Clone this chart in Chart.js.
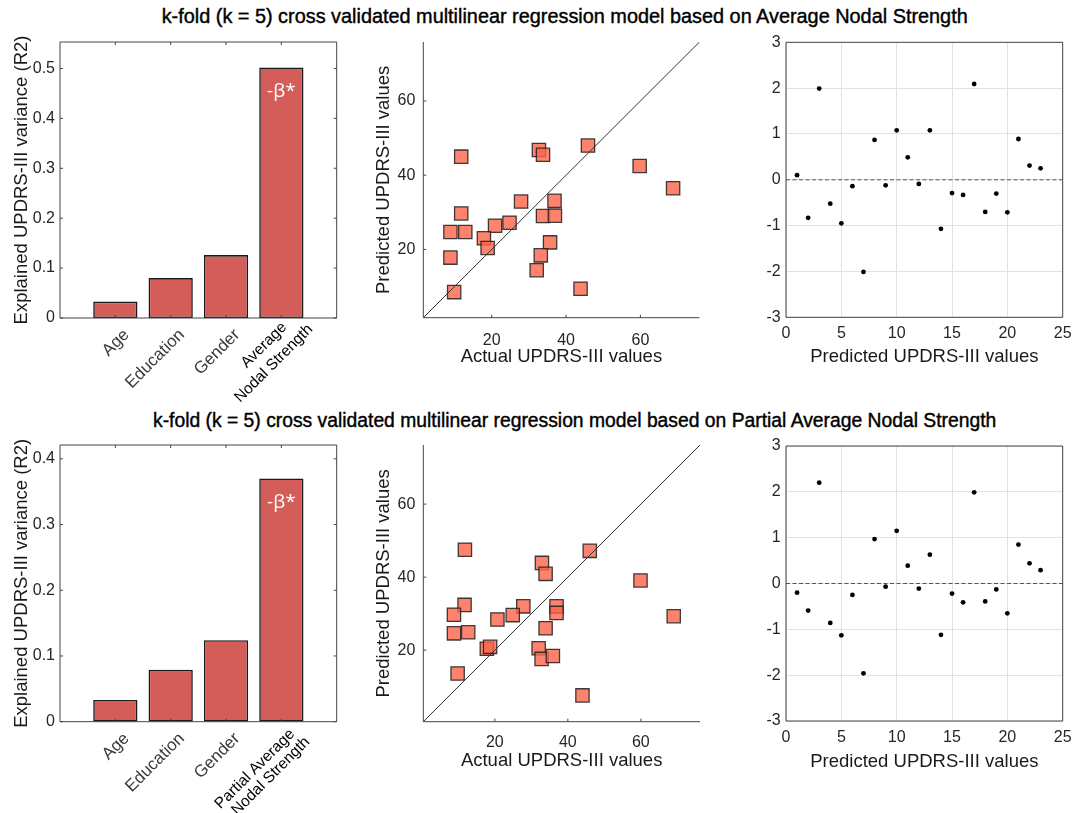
<!DOCTYPE html>
<html><head><meta charset="utf-8">
<script src="https://cdn.jsdelivr.net/npm/chart.js@4.4.1/dist/chart.umd.min.js"></script>
<style>
html,body{margin:0;padding:0;background:#fff;}
body{width:1074px;height:813px;position:relative;overflow:hidden;font-family:"Liberation Sans",Arial,sans-serif;}
canvas{position:absolute;display:block;}
.ttl{position:absolute;white-space:nowrap;color:#000;font-family:"Liberation Sans",Arial,sans-serif;line-height:1;font-weight:normal;-webkit-text-stroke:0.4px #000;}
</style></head><body>
<div class="ttl" id="t1">k-fold (k = 5) cross validated multilinear regression model based on Average Nodal Strength</div>
<div class="ttl" id="t2">k-fold (k = 5) cross validated multilinear regression model based on Partial Average Nodal Strength</div>
<canvas id="c1"></canvas><canvas id="c2"></canvas><canvas id="c3"></canvas>
<canvas id="c4"></canvas><canvas id="c5"></canvas><canvas id="c6"></canvas>
<script>
// ---------------- DATA ----------------
const barCategoriesTop = ['Age', 'Education', 'Gender', ['Average', 'Nodal Strength']];
const barCategoriesBottom = ['Age', 'Education', 'Gender', ['Partial Average', 'Nodal Strength']];
const r2Top = [0.033, 0.080, 0.126, 0.502];
const r2Bottom = [0.033, 0.079, 0.124, 0.370];
const barAnnotation = '-β*';
const r2TopTicks = [0, 0.1, 0.2, 0.3, 0.4, 0.5];
const r2BottomTicks = [0, 0.1, 0.2, 0.3, 0.4];

const actualTop    = [11.8, 32.7, 33.8, 45.9, 59.8, 68.8, 27.9, 36.9, 11.8, 33.8, 37.0, 24.8, 20.9, 8.9, 12.9, 17.9, 18.9, 35.7, 8.9, 33.2, 32.1, 43.9, 9.9];
const predictedTop = [45.0, 46.8, 45.5, 48.0, 42.5, 36.5, 32.9, 33.1, 29.7, 29.0, 29.1, 27.2, 26.4, 24.7, 24.7, 23.0, 20.4, 21.9, 17.8, 18.4, 14.4, 9.4, 8.5];
const actualBottom    = [11.8, 46.0, 32.9, 33.9, 59.9, 11.7, 8.8, 27.8, 36.9, 36.9, 24.9, 20.7, 69.0, 8.8, 12.7, 33.9, 17.8, 18.7, 32.0, 32.8, 35.9, 9.8, 44.0];
const predictedBottom = [47.5, 47.2, 43.9, 40.9, 39.1, 32.4, 29.7, 32.0, 32.0, 30.2, 29.6, 28.4, 29.3, 24.6, 24.9, 26.0, 20.4, 20.9, 20.5, 17.6, 18.4, 13.6, 7.6];
const updrsTicks = [20, 40, 60];

const residIndex  = [1, 2, 3, 4, 5, 6, 7, 8, 9, 10, 11, 12, 13, 14, 15, 16, 17, 18, 19, 20, 21, 22, 23];
const residTop    = [0.10, -0.83, 1.99, -0.52, -0.95, -0.14, -2.01, 0.87, -0.12, 1.08, 0.49, -0.09, 1.08, -1.07, -0.29, -0.33, 2.09, -0.70, -0.30, -0.71, 0.89, 0.31, 0.25];
const residBottom = [-0.20, -0.59, 2.20, -0.86, -1.13, -0.25, -1.96, 0.97, -0.07, 1.15, 0.39, -0.11, 0.63, -1.12, -0.22, -0.41, 1.99, -0.39, -0.13, -0.65, 0.85, 0.44, 0.29];
const residXTicks = [0, 5, 10, 15, 20, 25];
const residYTicks = [-3, -2, -1, 0, 1, 2, 3];

// ---------------- STYLE ----------------
const FONT = '"Liberation Sans", Arial, sans-serif';
const TICK_COLOR = '#262626';
const AXIS_COLOR = '#444';
const TICK_SIZE = 16;
const LABEL_SIZE = 18.5;

// rotated category-label placement (baseline right end of each line, relative to tick / axis)
const singleLineOffset = [14.5, 17.5];
const multiLineOffsetsTop = [[6, 10], [32, 12]];
const multiLineOffsetsBottom = [[14, 13], [29, 21]];

(function () {
  function fit(el, width, left, baseline) {
    el.style.fontSize = '20px';
    const w = el.getBoundingClientRect().width;
    const fs = 20 * width / w;
    el.style.fontSize = fs.toFixed(2) + 'px';
    el.style.left = left + 'px';
    el.style.top = (baseline - 0.8465 * fs).toFixed(1) + 'px';
  }
  fit(document.getElementById('t1'), 806.6, 161.7, 24);
  fit(document.getElementById('t2'), 844, 153, 427);
})();

const matlabAxes = {
  id: 'matlabAxes',
  afterDatasetsDraw(chart, args, opts) {
    if (!opts || !opts.enabled) return;
    const { ctx, chartArea: a } = chart;
    const xs = chart.scales.x, ys = chart.scales.y;
    const L = 3;
    ctx.save();
    ctx.strokeStyle = AXIS_COLOR;
    ctx.lineWidth = 1;
    ctx.beginPath();
    ctx.moveTo(a.left, a.top); ctx.lineTo(a.left, a.bottom); ctx.lineTo(a.right, a.bottom);
    if (opts.box) { ctx.lineTo(a.right, a.top); ctx.lineTo(a.left, a.top); }
    if (opts.ticks) {
      xs.ticks.forEach(t => {
        const p = xs.getPixelForValue(t.value);
        ctx.moveTo(p, a.bottom); ctx.lineTo(p, a.bottom - L);
        if (opts.box) { ctx.moveTo(p, a.top); ctx.lineTo(p, a.top + L); }
      });
      ys.ticks.forEach(t => {
        const p = ys.getPixelForValue(t.value);
        ctx.moveTo(a.left, p); ctx.lineTo(a.left + L, p);
        if (opts.box) { ctx.moveTo(a.right, p); ctx.lineTo(a.right - L, p); }
      });
    }
    ctx.stroke();
    if (opts.annotation) {
      const el = chart.getDatasetMeta(0).data[opts.annotation.index];
      ctx.fillStyle = '#fff';
      ctx.font = '19px "Open Sans", ' + FONT;
      ctx.textAlign = 'center';
      ctx.textBaseline = 'middle';
      ctx.fillText(opts.annotation.text, el.x, el.y + 24);
    }
    if (opts.catLabels) {
      const cl = opts.catLabels;
      cl.cats.forEach((lab, i) => {
        const tx = xs.getPixelForValue(i + 1);
        const lines = Array.isArray(lab) ? lab : [lab];
        const multi = lines.length > 1;
        lines.forEach((line, j) => {
          const off = multi ? cl.multiOffsets[j] : singleLineOffset;
          ctx.save();
          ctx.translate(tx + off[0], a.bottom + off[1]);
          ctx.rotate(-Math.PI / 4);
          ctx.textAlign = 'right';
          ctx.textBaseline = 'alphabetic';
          ctx.fillStyle = multi ? '#000' : '#3a3a3a';
          ctx.font = (multi ? '15.5px ' : '17px ') + FONT;
          ctx.fillText(line, 0, 0);
          ctx.restore();
        });
      });
    }
    ctx.restore();
  }
};
Chart.register(matlabAxes);

function mk(id, px, py, cw, ch, area, cfg) {
  const c = document.getElementById(id);
  c.width = cw; c.height = ch;
  c.style.left = px + 'px'; c.style.top = py + 'px';
  c.style.width = cw + 'px'; c.style.height = ch + 'px';
  const o = cfg.options;
  o.responsive = false;
  o.animation = false;
  o.devicePixelRatio = 1;
  o.layout = { padding: { left: 0, top: area.t, right: cw - area.r, bottom: 0 } };
  o.plugins = Object.assign({ legend: { display: false }, tooltip: { enabled: false } }, o.plugins || {});
  o.scales.x.afterFit = s => { s.height = ch - area.b; s.paddingLeft = 0; s.paddingRight = 0; s.paddingTop = 0; s.paddingBottom = 0; };
  o.scales.y.afterFit = s => { s.width = area.l; s.paddingTop = 0; s.paddingBottom = 0; s.paddingLeft = 0; s.paddingRight = 0; };
  return new Chart(c, cfg);
}

function barChart(id, py, area, cats, vals, yTicks, yMax, multiOffsets) {
  return mk(id, 0, py, 360, area.ch, area, {
    type: 'bar',
    data: {
      datasets: [{
        data: cats.map((c, i) => ({ x: i + 1, y: vals[i] })),
        backgroundColor: 'rgb(212,93,89)',
        borderColor: '#1a1a1a',
        borderWidth: 1.6,
        borderSkipped: false,
        categoryPercentage: 1,
        barPercentage: 0.8
      }]
    },
    options: {
      plugins: { matlabAxes: { enabled: true, box: true, ticks: true,
        annotation: { index: 3, text: barAnnotation },
        catLabels: { cats: cats, multiOffsets: multiOffsets } } },
      scales: {
        x: {
          type: 'linear', min: 0, max: cats.length + 1, offset: false,
          grid: { display: false, drawTicks: false, offset: false }, border: { display: false },
          afterBuildTicks: s => { s.ticks = cats.map((c, i) => ({ value: i + 1 })); },
          ticks: { display: false, autoSkip: false }
        },
        y: {
          min: 0, max: yMax,
          grid: { display: false, drawTicks: false }, border: { display: false },
          afterBuildTicks: s => { s.ticks = yTicks.map(v => ({ value: v })); },
          ticks: { padding: 5, color: TICK_COLOR, font: { family: FONT, size: TICK_SIZE }, callback: v => String(v) },
          title: { display: true, text: 'Explained UPDRS-III variance (R2)', color: '#1a1a1a', font: { family: FONT, size: LABEL_SIZE }, padding: { top: 10.6, bottom: 0 } }
        }
      }
    }
  });
}

function scatterChart(id, py, area, xs, ys, lim, xPad, xTitlePad) {
  return mk(id, 360, py, 370, area.ch, area, {
    type: 'scatter',
    data: {
      datasets: [
        {
          data: [{ x: lim[0], y: lim[0] }, { x: lim[1], y: lim[1] }],
          showLine: true, borderColor: '#333', borderWidth: 1, pointRadius: 0
        },
        {
          data: xs.map((x, i) => ({ x: x, y: ys[i] })),
          pointStyle: 'rect', pointRadius: 9.4,
          backgroundColor: 'rgba(252,100,75,0.8)',
          borderColor: 'rgba(30,30,30,0.85)', borderWidth: 1.3
        }
      ]
    },
    options: {
      plugins: { matlabAxes: { enabled: true, box: false, ticks: true } },
      scales: {
        x: {
          type: 'linear', min: lim[0], max: lim[1],
          grid: { display: false, drawTicks: false }, border: { display: false },
          afterBuildTicks: s => { s.ticks = updrsTicks.map(v => ({ value: v })); },
          ticks: { padding: xPad, color: TICK_COLOR, font: { family: FONT, size: TICK_SIZE } },
          title: { display: true, text: 'Actual UPDRS-III values', color: '#1a1a1a', font: { family: FONT, size: LABEL_SIZE }, padding: { top: 0, bottom: xTitlePad } }
        },
        y: {
          min: lim[0], max: lim[1],
          grid: { display: false, drawTicks: false }, border: { display: false },
          afterBuildTicks: s => { s.ticks = updrsTicks.map(v => ({ value: v })); },
          ticks: { padding: 8, color: TICK_COLOR, font: { family: FONT, size: TICK_SIZE } },
          title: { display: true, text: 'Predicted UPDRS-III values', color: '#1a1a1a', font: { family: FONT, size: LABEL_SIZE }, padding: { top: 12.9, bottom: 0 } }
        }
      }
    }
  });
}

function residChart(id, py, area, vals, xPad, xTitlePad) {
  return mk(id, 730, py, 344, area.ch, area, {
    type: 'scatter',
    data: {
      datasets: [
        {
          data: residIndex.map((x, i) => ({ x: x, y: vals[i] })),
          pointStyle: 'circle', pointRadius: 2.4,
          backgroundColor: '#000', borderColor: '#000', borderWidth: 0
        },
        {
          data: [{ x: residXTicks[0], y: 0 }, { x: residXTicks[residXTicks.length - 1], y: 0 }],
          showLine: true, borderColor: '#555', borderWidth: 1, borderDash: [4, 2.5], pointRadius: 0
        }
      ]
    },
    options: {
      plugins: { matlabAxes: { enabled: true, box: true, ticks: false } },
      scales: {
        x: {
          type: 'linear', min: residXTicks[0], max: residXTicks[residXTicks.length - 1],
          grid: { display: true, drawTicks: false, color: '#e2e2e2', lineWidth: 1 }, border: { display: false },
          afterBuildTicks: s => { s.ticks = residXTicks.map(v => ({ value: v })); },
          ticks: { padding: xPad, color: TICK_COLOR, font: { family: FONT, size: TICK_SIZE } },
          title: { display: true, text: 'Predicted UPDRS-III values', color: '#1a1a1a', font: { family: FONT, size: LABEL_SIZE }, padding: { top: 0, bottom: xTitlePad } }
        },
        y: {
          min: residYTicks[0], max: residYTicks[residYTicks.length - 1],
          grid: { display: true, drawTicks: false, color: '#e2e2e2', lineWidth: 1 }, border: { display: false },
          afterBuildTicks: s => { s.ticks = residYTicks.map(v => ({ value: v })); },
          ticks: { padding: 5.3, color: TICK_COLOR, font: { family: FONT, size: TICK_SIZE } }
        }
      }
    }
  });
}

barChart('c1', 30, { ch: 400, l: 60, t: 12, r: 336.7, b: 288 }, barCategoriesTop, r2Top, r2TopTicks, 0.553, multiLineOffsetsTop);
barChart('c4', 432, { ch: 381, l: 60, t: 13, r: 336.7, b: 289.7 }, barCategoriesBottom, r2Bottom, r2BottomTicks, 0.421, multiLineOffsetsBottom);
scatterChart('c2', 30, { ch: 380, l: 63.3, t: 12, r: 339.5, b: 287.7 }, actualTop, predictedTop, [1.6, 75.9], 13, 41.9);
scatterChart('c5', 432, { ch: 381, l: 63.3, t: 13, r: 340, b: 289.7 }, actualBottom, predictedBottom, [0.4, 76.2], 11.5, 40.9);
residChart('c3', 30, { ch: 380, l: 56, t: 12.3, r: 332.7, b: 287.3 }, residTop, 6.5, 42.4);
residChart('c6', 432, { ch: 381, l: 56, t: 14, r: 332.7, b: 289 }, residBottom, 6.5, 39.9);
</script>
</body></html>
